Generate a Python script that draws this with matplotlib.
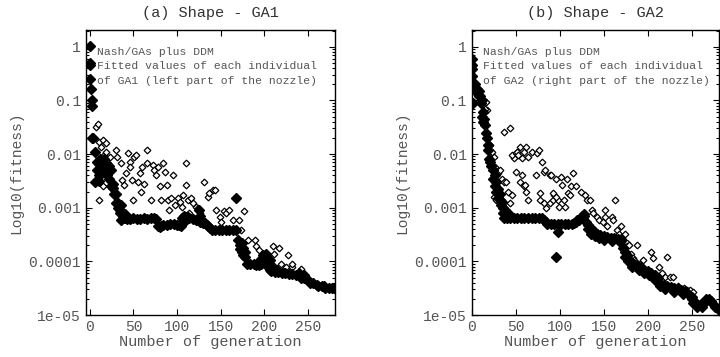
import numpy as np
import matplotlib
matplotlib.use("Agg")
import matplotlib.pyplot as plt
from matplotlib.ticker import FixedLocator, NullFormatter

# ---- panel (a): GA1 ----
ga1_start_gen = [0, 0, 0, 0, 1, 2, 2]
ga1_start_val = [1.05, 0.5, 0.45, 0.25, 0.16, 0.1, 0.08]

ga1_best_gen = [2, 4, 6, 8, 10, 12, 14, 16, 18, 20, 22, 24, 26, 28, 30, 32, 34, 36, 38, 40,
                42, 46, 50, 54, 58, 62, 66, 70, 74, 76, 78, 80, 82, 84, 88, 92, 96, 100, 102, 104,
                106, 108, 110, 112, 114, 118, 122, 124, 126, 128, 130, 132, 134, 136, 138, 140, 144, 148, 152, 156,
                160, 164, 168, 170, 172, 174, 176, 178, 180, 184, 188, 190, 194, 196, 198, 200, 202, 204, 206, 208,
                212, 216, 220, 224, 228, 232, 236, 240, 242, 246, 250, 252, 256, 260, 262, 266, 268, 270, 274, 278, 280]
ga1_best_val = [0.02, 0.02, 0.011, 0.005, 0.004, 0.004, 0.005, 0.006, 0.006, 0.005, 0.0035, 0.0025, 0.0023, 0.0018, 0.0012, 0.001, 0.0008, 0.0006, 0.00065, 0.00063,
                0.00062, 0.00062, 0.00063, 0.00062, 0.00062, 0.00063, 0.00062, 0.00063, 0.00063, 0.00062, 0.00045, 0.00043, 0.00045, 0.00047, 0.00048, 0.00049, 0.00049, 0.00048, 0.00047, 0.00046,
                0.00065, 0.0007, 0.00068, 0.00066, 0.00064, 0.00062, 0.0006, 0.00058, 0.00055, 0.00053, 0.00052, 0.00052, 0.00048, 0.00045, 0.00042, 0.00038, 0.00038, 0.00038, 0.00038, 0.00038,
                0.00038, 0.00038, 0.00038, 0.00025, 0.00017, 0.00015, 0.00013, 0.00012, 0.00009, 0.00009, 0.00009, 0.000085, 0.000085, 0.00009, 0.0001, 0.00012, 0.0001, 0.00008, 0.00007, 0.000065,
                0.000063, 0.000062, 0.00006, 0.00006, 0.000058, 0.000057, 0.000056, 0.000055, 0.00005, 0.000048, 0.000045, 0.00004, 0.000039, 0.000037, 0.000035, 0.000035, 0.000034, 0.000032, 0.000032, 0.000032, 0.000032]

# individuals crowding close to the best one (the thick black band)
ga1_near_gen = [8, 10, 12, 14, 16, 18, 20, 22, 24, 26, 10, 6, 30, 32, 34, 36, 38, 40, 110, 125,
                126, 168, 172, 174, 176, 178, 196, 198, 202, 206, 210, 214, 240, 246]
ga1_near_val = [0.007, 0.0065, 0.008, 0.007, 0.008, 0.0045, 0.004, 0.006, 0.005, 0.0028, 0.0032, 0.003, 0.0018, 0.0012, 0.0009, 0.0011, 0.0008, 0.00075, 0.0006, 0.0009,
                0.0007, 0.0015, 0.0002, 0.00022, 0.00018, 0.00015, 0.00011, 0.00013, 0.00014, 0.000105, 0.00008, 0.00007, 0.00006, 0.000055]

ga1_ind_gen = [7, 9, 11, 15, 18, 13, 16, 19, 23, 21, 11, 15, 30, 31, 36, 37, 39, 41, 44, 46,
               46, 48, 50, 51, 53, 55, 57, 59, 60, 62, 65, 66, 70, 72, 74, 76, 78, 80, 82, 84,
               86, 88, 90, 91, 93, 95, 98, 101, 103, 106, 107, 110, 110, 112, 114, 116, 118, 122, 124, 126,
               131, 135, 137, 141, 143, 145, 149, 150, 154, 156, 160, 164, 166, 171, 177, 173, 181, 189, 190, 194,
               198, 200, 210, 217, 227, 211, 219, 225, 232, 242, 232]
ga1_ind_val = [0.032, 0.036, 0.017, 0.018, 0.016, 0.0138, 0.0096, 0.011, 0.0089, 0.0068, 0.0014, 0.0025, 0.012, 0.0089, 0.0068, 0.0033, 0.0026, 0.0044, 0.0103, 0.0072,
               0.0058, 0.0033, 0.0014, 0.0089, 0.0096, 0.003, 0.0044, 0.002, 0.0058, 0.0028, 0.0068, 0.012, 0.0014, 0.0063, 0.005, 0.0041, 0.0058, 0.0025, 0.0014, 0.0068,
               0.0047, 0.0026, 0.0014, 0.00091, 0.0015, 0.0041, 0.0011, 0.0015, 0.0013, 0.00105, 0.0017, 0.0026, 0.0068, 0.0014, 0.00078, 0.0015, 0.0012, 0.00105, 0.00098, 0.00078,
               0.003, 0.0016, 0.0019, 0.0021, 0.0021, 0.00091, 0.00068, 0.00055, 0.00085, 0.00078, 0.00091, 0.00059, 0.0015, 0.00059, 0.00085, 0.00038, 0.00025, 0.00025, 0.00019, 0.00016,
               0.00014, 0.000105, 0.00019, 0.00018, 0.00013, 0.00014, 0.000091, 0.000079, 0.000079, 0.000073, 0.000091]

# ---- panel (b): GA2 ----
ga2_start_gen = [0, 0, 0, 0, 1, 1]
ga2_start_val = [0.6, 0.45, 0.38, 0.28, 0.18, 0.09]

ga2_best_gen = [2, 4, 6, 8, 10, 12, 13, 14, 16, 18, 20, 22, 24, 26, 28, 30, 32, 34, 36, 37,
                40, 44, 48, 52, 56, 60, 64, 68, 72, 76, 80, 82, 84, 86, 90, 94, 98, 102, 106, 110,
                114, 116, 118, 120, 122, 124, 126, 128, 130, 132, 134, 136, 138, 140, 142, 146, 150, 154, 158, 162,
                166, 170, 172, 174, 176, 178, 180, 184, 188, 192, 196, 200, 204, 208, 212, 214, 218, 222, 226, 230,
                234, 238, 242, 246, 250, 252, 256, 260, 264, 266, 270, 272, 274, 276, 280]
ga2_best_val = [0.18, 0.17, 0.16, 0.15, 0.12, 0.1, 0.06, 0.045, 0.025, 0.015, 0.008, 0.006, 0.005, 0.004, 0.003, 0.0022, 0.0018, 0.0013, 0.001, 0.00065,
                0.00065, 0.00065, 0.00065, 0.00065, 0.00065, 0.00065, 0.00065, 0.00065, 0.00065, 0.00065, 0.00063, 0.00058, 0.00053, 0.0005, 0.0005, 0.0005, 0.0005, 0.0005, 0.0005, 0.0005,
                0.0005, 0.00052, 0.00055, 0.00058, 0.0006, 0.00063, 0.00068, 0.0007, 0.00055, 0.00048, 0.00043, 0.0004, 0.00037, 0.00035, 0.00033, 0.00031, 0.0003, 0.00028, 0.00027, 0.00027,
                0.00026, 0.00026, 0.00018, 0.00015, 0.00013, 0.00011, 0.0001, 0.00009, 0.000085, 0.00008, 0.00007, 0.000065, 0.00006, 0.000055, 0.00005, 0.00004, 0.000037, 0.000035, 0.000033, 0.000032,
                0.00003, 0.000029, 0.000028, 0.000025, 0.000022, 0.000017, 0.000016, 0.000016, 0.000017, 0.00002, 0.00002, 0.000018, 0.000016, 0.000014, 0.000013]

ga2_near_gen = [4, 6, 8, 11, 12, 13, 15, 17, 19, 21, 24, 26, 28, 30, 33, 36, 38, 40, 42, 125,
                128, 132, 136, 140, 145, 150, 160, 168, 174, 178, 182, 190, 196, 202, 208, 214, 220, 230, 240, 250,
                256, 262]
ga2_near_val = [0.2, 0.14, 0.12, 0.09, 0.05, 0.04, 0.035, 0.02, 0.012, 0.007, 0.0035, 0.0025, 0.002, 0.0015, 0.0011, 0.0008, 0.0009, 0.0008, 0.00075, 0.0007,
                0.00075, 0.0004, 0.00033, 0.0003, 0.00027, 0.00025, 0.00024, 0.00023, 0.00012, 0.0001, 0.00008, 0.00007, 0.00006, 0.000055, 0.000045, 0.000035, 0.00003, 0.000027, 0.000025, 0.00002,
                0.000014, 0.000014]

ga2_ind_gen = [3, 16, 17, 15, 37, 44, 21, 23, 25, 27, 30, 32, 35, 37, 25, 28, 31, 35, 39, 41,
               43, 46, 48, 46, 50, 52, 55, 53, 57, 59, 50, 57, 55, 59, 61, 62, 64, 62, 64, 69,
               74, 76, 80, 73, 78, 82, 85, 89, 92, 94, 98, 99, 96, 78, 82, 83, 89, 90, 92, 96,
               101, 103, 105, 106, 108, 110, 112, 113, 115, 119, 124, 129, 131, 135, 137, 138, 142, 145, 149, 151,
               152, 154, 160, 161, 165, 167, 170, 170, 172, 174, 176, 177, 179, 181, 183, 184, 186, 188, 191, 195,
               204, 206, 213, 216, 220, 222, 225, 229, 234, 241, 245, 248, 252, 163]
ga2_ind_val = [0.22, 0.094, 0.066, 0.07, 0.026, 0.03, 0.015, 0.011, 0.0089, 0.0058, 0.0044, 0.005, 0.0035, 0.003, 0.0016, 0.0014, 0.0013, 0.0014, 0.003, 0.002,
               0.0012, 0.0017, 0.0083, 0.0096, 0.0103, 0.011, 0.0138, 0.0096, 0.0083, 0.011, 0.0047, 0.0041, 0.003, 0.0025, 0.0026, 0.002, 0.0014, 0.0138, 0.0089, 0.011,
               0.0103, 0.012, 0.0072, 0.0041, 0.0014, 0.0012, 0.00098, 0.0012, 0.0014, 0.0017, 0.0014, 0.00105, 0.0016, 0.0019, 0.0047, 0.005, 0.0041, 0.0041, 0.0019, 0.0035,
               0.0038, 0.0026, 0.0014, 0.00105, 0.0035, 0.0019, 0.0017, 0.0025, 0.0044, 0.0025, 0.002, 0.0017, 0.0014, 0.0014, 0.00091, 0.00078, 0.00068, 0.00059, 0.00055, 0.00091,
               0.00068, 0.00045, 0.00068, 0.00059, 0.00038, 0.00033, 0.00025, 0.00045, 0.00025, 0.00033, 0.00022, 0.00019, 0.0002, 0.00014, 0.000114, 0.000105, 0.000091, 0.0002, 0.000091, 0.000105,
               0.00015, 0.000114, 0.000079, 0.00006, 0.000052, 0.00012, 0.000052, 0.000052, 0.000034, 0.000032, 0.000029, 0.000029, 0.000027, 0.0014]
ga2_out_gen = [96, 98]
ga2_out_val = [0.00012, 0.00035]

xticks = [0, 50, 100, 150, 200, 250]
yticks = [1e-5, 1e-4, 1e-3, 1e-2, 1e-1, 1]
ytick_labels = ["1e-05", "0.0001", "0.001", "0.01", "0.1", "1"]

plt.rcParams['font.family'] = ['Liberation Mono', 'DejaVu Sans Mono']
grey = '#555555'

fig = plt.figure(figsize=(7.2, 3.57), dpi=100)
ax1 = fig.add_axes([0.1194, 0.1176, 0.3458, 0.7984])
ax2 = fig.add_axes([0.6551, 0.1176, 0.3435, 0.7984])

panels = [
    (ax1, "(a) Shape - GA1", "of GA1 (left part of the nozzle)", (-4.5, 281),
     [(ga1_start_gen, ga1_start_val), (ga1_best_gen, ga1_best_val), (ga1_near_gen, ga1_near_val)],
     ga1_ind_gen, ga1_ind_val),
    (ax2, "(b) Shape - GA2", "of GA2 (right part of the nozzle)", (0, 281),
     [(ga2_start_gen, ga2_start_val), (ga2_best_gen, ga2_best_val), (ga2_near_gen, ga2_near_val),
      (ga2_out_gen, ga2_out_val)],
     ga2_ind_gen, ga2_ind_val),
]

for ax, title, line3, xlim, filled, ig, iv in panels:
    ax.set_yscale('log')
    ax.plot(ig, iv, 'D', ms=3.4, mfc='white', mec='black', mew=0.9, ls='none', zorder=2)
    for g, v in filled:
        ax.plot(g, v, 'D', ms=4.8, mfc='black', mec='black', ls='none', zorder=3)
    ax.set_xlim(*xlim)
    ax.set_ylim(1e-5, 2.05)
    ax.set_xticks(xticks)
    ax.yaxis.set_major_locator(FixedLocator(yticks))
    ax.set_yticklabels(ytick_labels)
    ax.yaxis.set_minor_formatter(NullFormatter())
    ax.tick_params(which='both', direction='in', top=True, right=True,
                   labelsize=10.5, labelcolor=grey, color='black', width=0.8)
    ax.tick_params(which='major', length=4)
    ax.tick_params(which='minor', length=2)
    ax.set_xlabel("Number of generation", fontsize=11, color=grey, labelpad=1)
    ax.set_ylabel("Log10(fitness)", fontsize=10.5, color=grey, labelpad=4)
    ax.set_title(title, fontsize=11, color='#333333', pad=9)
    ax.text(0.045, 0.94, "Nash/GAs plus DDM\nFitted values of each individual\n" + line3,
            transform=ax.transAxes, ha='left', va='top', fontsize=8.2, color=grey,
            linespacing=1.55)
    for s in ax.spines.values():
        s.set_linewidth(1.0)

fig.savefig("out.png", dpi=100)
